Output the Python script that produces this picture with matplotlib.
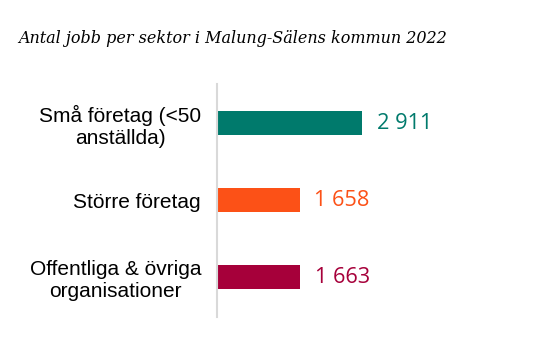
import matplotlib.pyplot as plt

categories = ["Små företag (<50\nanställda)", "Större företag", "Offentliga & övriga\norganisationer"]
values = [2911, 1658, 1663]
value_labels = ["2 911", "1 658", "1 663"]
colors = ["#007A6C", "#FC5117", "#A6003A"]

W, H = 538, 361
fig = plt.figure(figsize=(W / 100, H / 100), dpi=100)
ax = fig.add_axes([217 / W, 1 - 317 / H, (520 - 217) / W, (317 - 84) / H])

y = range(len(categories))
ax.barh(y, values, height=0.31, color=colors)
ax.set_xlim(0, 6085)
ax.set_ylim(2.52, -0.51)

for i, (v, lab, c) in enumerate(zip(values, value_labels, colors)):
    ax.text(v + 300, i, lab, color=c, va="center", ha="left",
            fontsize=15.7, family="Open Sans")

ax.set_yticks(list(y))
ax.set_yticklabels(categories, fontsize=15, family="Liberation Sans",
                   multialignment="center")
ax.tick_params(axis="y", length=0, pad=11.5)
ax.set_xticks([])
for s in ["top", "right", "bottom"]:
    ax.spines[s].set_visible(False)
ax.spines["left"].set_color("#D9D9D9")
ax.spines["left"].set_linewidth(1.5)

fig.text(18 / W, 1 - 43 / H, "Antal jobb per sektor i Malung-Sälens kommun 2022",
         fontsize=11.5, style="italic", family="DejaVu Serif", ha="left", va="baseline")

fig.savefig("out.png", dpi=100)
